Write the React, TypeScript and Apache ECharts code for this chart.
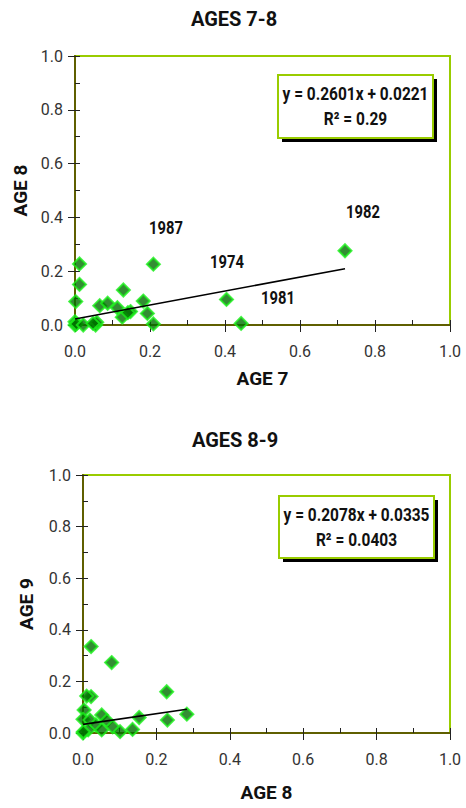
import React, { useEffect, useRef } from "react";
import * as echarts from "echarts";

// Axis scale shared by both panels
const axisMin = 0;
const axisMax = 1;
const majorStep = 0.2;
const minorStep = 0.1;

// Panel 1: ages 7-8
const age7X = [0.012, 0.012, 0.002, 0.0, 0.0, 0.004, 0.022, 0.055, 0.058, 0.048, 0.066, 0.087, 0.113, 0.126, 0.129, 0.148, 0.141, 0.182, 0.193, 0.209, 0.209, 0.404, 0.443, 0.72];
const age8Y = [0.227, 0.151, 0.087, 0.012, 0.0, 0.004, 0.0, 0.0, 0.01, 0.006, 0.072, 0.081, 0.064, 0.029, 0.13, 0.05, 0.046, 0.089, 0.043, 0.004, 0.226, 0.095, 0.006, 0.276];
const fit78 = { slope: 0.2601, intercept: 0.0221, r2: "0.29" };
const yearLabels78 = ["1987", "1974", "1981", "1982"];

// Panel 2: ages 8-9
const age8X = [0.022, 0.078, 0.022, 0.01, 0.003, 0.0, 0.019, 0.051, 0.065, 0.035, 0.014, 0.0, 0.001, 0.051, 0.081, 0.101, 0.135, 0.153, 0.228, 0.23, 0.283];
const age9Y = [0.335, 0.273, 0.141, 0.143, 0.089, 0.053, 0.05, 0.07, 0.048, 0.031, 0.012, 0.0, 0.005, 0.012, 0.024, 0.005, 0.014, 0.06, 0.16, 0.05, 0.073];
const fit89 = { slope: 0.2078, intercept: 0.0335, r2: "0.0403" };

const FONT = "Roboto, 'Liberation Sans', sans-serif";
const LIME = "#99cc00";
const OLIVE = "#5f5f00";

function zip(xs: number[], ys: number[]) {
  return xs.map((x, i) => [x, ys[i]]);
}

function trend(xs: number[], fit: { slope: number; intercept: number }) {
  const lo = Math.min(...xs);
  const hi = Math.max(...xs);
  return [lo, hi].map((x) => [x, fit.slope * x + fit.intercept]);
}

function mainAxis(gridIndex: number, name: string, isX: boolean) {
  return {
    type: "value",
    gridIndex,
    position: isX ? "bottom" : "left",
    min: axisMin,
    max: axisMax,
    interval: majorStep,
    name,
    nameLocation: "middle",
    nameGap: isX ? (gridIndex === 0 ? 44 : 50) : gridIndex === 0 ? 43 : 47,
    nameTextStyle: { fontFamily: FONT, fontWeight: "bold", fontSize: 19, color: "#111" },
    axisLine: { show: true, onZero: false, lineStyle: { color: OLIVE, width: 2 } },
    axisTick: { show: true, inside: false, length: 7, lineStyle: { color: "#222", width: 1 } },
    axisLabel: {
      show: true,
      margin: isX ? 18 : 12,
      fontFamily: FONT,
      fontSize: 16,
      color: "#333",
      formatter: (v: number) => v.toFixed(1),
    },
    splitLine: { show: false },
  };
}

function minorAxis(gridIndex: number, isX: boolean) {
  return {
    type: "value",
    gridIndex,
    position: isX ? "bottom" : "left",
    min: axisMin,
    max: axisMax,
    interval: minorStep,
    axisLine: { show: false, onZero: false },
    axisTick: { show: true, inside: true, length: 5, lineStyle: { color: "#222", width: 1 } },
    axisLabel: { show: false },
    splitLine: { show: false },
  };
}

const scatterStyle = {
  type: "scatter",
  symbol: "diamond",
  symbolSize: 13,
  itemStyle: { color: "#007000", borderColor: "#1cf01c", borderWidth: 2 },
  z: 3,
};

const lineStyle = {
  type: "line",
  showSymbol: false,
  symbol: "none",
  lineStyle: { color: "#000", width: 1.6 },
  z: 4,
  silent: true,
};

// Condensed bold text (scaled horizontally around its centre)
function label(text: string, x: number, y: number, size: number, squeeze: number) {
  return {
    type: "text",
    x,
    y,
    scaleX: squeeze,
    z: 12,
    style: { text, font: `bold ${size}px ${FONT}`, fill: "#111", align: "center", verticalAlign: "middle" },
  };
}

function eqBox(x: number, y: number, w: number, h: number, fit: { slope: number; intercept: number; r2: string }) {
  const cx = x + w / 2;
  return [
    { type: "rect", shape: { x: x + 4, y: y + 4, width: w, height: h }, style: { fill: "#000" }, z: 10 },
    { type: "rect", shape: { x, y, width: w, height: h }, style: { fill: "#fff", stroke: LIME, lineWidth: 2 }, z: 11 },
    label(`y = ${fit.slope.toFixed(4)}x + ${fit.intercept.toFixed(4)}`, cx, y + h / 2 - 12.5, 18, 0.86),
    label(`R² = ${fit.r2}`, cx, y + h / 2 + 12.5, 18, 0.86),
  ];
}

export default function App() {
  const ref = useRef<HTMLDivElement>(null);

  useEffect(() => {
    if (!ref.current) return;
    const chart = echarts.init(ref.current, null, { renderer: "svg" });
    chart.setOption({
      animation: false,
      backgroundColor: "#fff",
      textStyle: { fontFamily: FONT },
      grid: [
        { left: 75, top: 56, width: 375, height: 269, show: true, borderColor: LIME, borderWidth: 2, outerBoundsMode: "none" },
        { left: 83, top: 475, width: 367, height: 258, show: true, borderColor: LIME, borderWidth: 2, outerBoundsMode: "none" },
      ],
      xAxis: [mainAxis(0, "AGE 7", true), minorAxis(0, true), mainAxis(1, "AGE 8", true), minorAxis(1, true)],
      yAxis: [mainAxis(0, "AGE 8", false), minorAxis(0, false), mainAxis(1, "AGE 9", false), minorAxis(1, false)],
      series: [
        { ...scatterStyle, name: "Ages 7-8", xAxisIndex: 0, yAxisIndex: 0, data: zip(age7X, age8Y) },
        { ...lineStyle, name: "Trend 7-8", xAxisIndex: 0, yAxisIndex: 0, data: trend(age7X, fit78) },
        { ...scatterStyle, name: "Ages 8-9", xAxisIndex: 2, yAxisIndex: 2, data: zip(age8X, age9Y) },
        { ...lineStyle, name: "Trend 8-9", xAxisIndex: 2, yAxisIndex: 2, data: trend(age8X, fit89) },
      ],
      graphic: [
        label("AGES 7-8", 234, 19, 20, 1),
        label("AGES 8-9", 235, 440, 20, 1),
        ...eqBox(278, 75, 155, 63, fit78),
        ...eqBox(279, 496, 155, 62, fit89),
        label(yearLabels78[0], 166, 228, 18, 0.82),
        label(yearLabels78[1], 227, 262, 18, 0.82),
        label(yearLabels78[2], 278, 298, 18, 0.82),
        label(yearLabels78[3], 363, 212, 18, 0.82),
      ],
    });
    return () => chart.dispose();
  }, []);

  return <div ref={ref} style={{ position: "absolute", left: 0, top: 0, width: 466, height: 808 }} />;
}
